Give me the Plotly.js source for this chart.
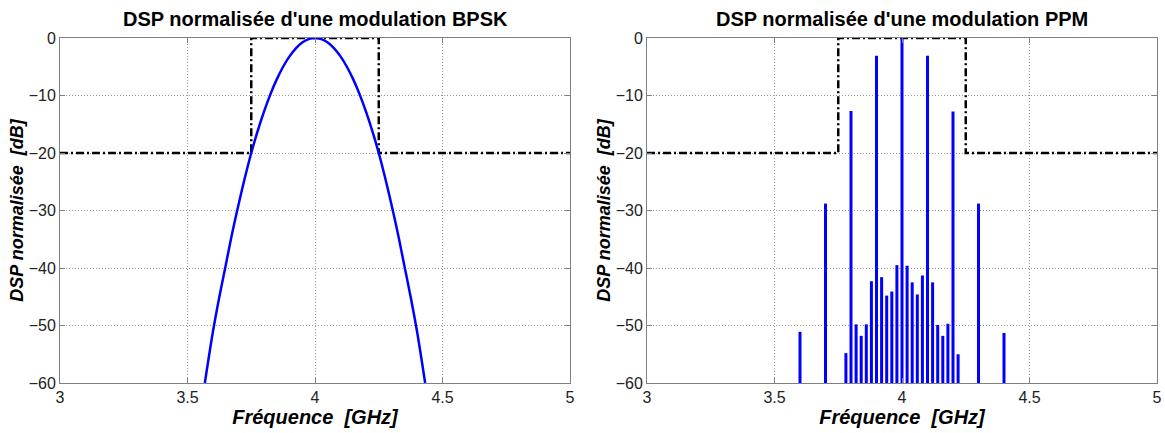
<!DOCTYPE html>
<html>
<head>
<meta charset="utf-8">
<script src="https://cdn.plot.ly/plotly-3.0.1.min.js"></script>
<style>html,body{margin:0;padding:0;background:#fff;}#chart{width:1165px;height:433px;}</style>
</head>
<body>
<div id="chart"></div>
<script>
// BPSK spectrum
const bpskFreq = [3.568, 3.6, 3.625, 3.65, 3.675, 3.7, 3.725, 3.75, 3.775, 3.8, 3.825, 3.85, 3.875, 3.9, 3.925, 3.95, 3.975, 4.0,
                  4.025, 4.05, 4.075, 4.1, 4.125, 4.15, 4.175, 4.2, 4.225, 4.25, 4.275, 4.3, 4.325, 4.35, 4.375, 4.4, 4.432];
const bpskDb   = [-60, -51, -45, -39.5, -34, -29, -24.3, -20, -16.2, -12.8, -9.8, -7.2, -5, -3.2, -1.8, -0.8, -0.2, 0,
                  -0.2, -0.8, -1.8, -3.2, -5, -7.2, -9.8, -12.8, -16.2, -20, -24.3, -29, -34, -39.5, -45, -51, -60];
// PPM spectral lines
const ppmFreq = [3.6, 3.7, 3.78, 3.8, 3.82, 3.84, 3.86, 3.88, 3.9, 3.92, 3.94, 3.96, 3.98, 4.0,
                 4.02, 4.04, 4.06, 4.08, 4.1, 4.12, 4.14, 4.16, 4.18, 4.2, 4.22, 4.3, 4.4];
const ppmDb   = [-51.1, -28.8, -54.8, -12.7, -49.8, -51.8, -49.8, -42.3, -3.1, -41.6, -44.8, -44.1, -39.5, 0,
                 -39.6, -42.5, -44.6, -41.3, -3.1, -42.5, -49.9, -51.8, -49.7, -12.8, -55, -28.8, -51.3];
// Spectral mask
const maskFreq = [3, 3.75, 3.75, 4.25, 4.25, 5];
const maskDb   = [-20, -20, 0, 0, -20, -20];
const yFloor = -60;

const xTicks = [3, 3.5, 4, 4.5, 5];
const xTickText = ['3', '3.5', '4', '4.5', '5'];
const yTicks = [-60, -50, -40, -30, -20, -10, 0];

// Build stems
const stemX = [], stemY = [];
ppmFreq.forEach((f, i) => { stemX.push(f, f, null); stemY.push(yFloor, ppmDb[i], null); });

const maskStyle = {color: '#000', width: 2.5, dash: '8px,3px,2px,3px'};
const traces = [
  {x: maskFreq, y: maskDb, mode: 'lines', line: maskStyle, xaxis: 'x', yaxis: 'y', cliponaxis: false, hoverinfo: 'skip'},
  {x: bpskFreq, y: bpskDb, mode: 'lines', line: {color: '#0000ff', width: 2.5, shape: 'spline'}, xaxis: 'x', yaxis: 'y', cliponaxis: false},
  {x: maskFreq, y: maskDb, mode: 'lines', line: maskStyle, xaxis: 'x2', yaxis: 'y2', cliponaxis: false, hoverinfo: 'skip'},
  {x: stemX, y: stemY, mode: 'lines', line: {color: '#0000ff', width: 3}, xaxis: 'x2', yaxis: 'y2', cliponaxis: false}
];

const fontFam = '"Liberation Sans", Arial, Helvetica, sans-serif';
function xAx(domain, anchor) {
  return {
    domain: domain, anchor: anchor, range: [3, 5], tickvals: xTicks, ticktext: xTickText,
    showline: true, mirror: 'ticks', linecolor: '#808080', linewidth: 1,
    ticks: 'inside', ticklen: 5, tickcolor: '#808080',
    showgrid: true, gridcolor: '#9a9a9a', griddash: '1px,2px', gridwidth: 1, zeroline: false,
    tickfont: {family: fontFam, size: 16, color: '#222'},
    title: {text: '<b><i>Fréquence&nbsp;&nbsp;[GHz]</i></b>', font: {family: fontFam, size: 20, color: '#000'}, standoff: 3}
  };
}
function yAx(anchor) {
  return {
    domain: [0, 1], anchor: anchor, range: [-60, 0], tickvals: yTicks,
    showline: true, mirror: 'ticks', linecolor: '#808080', linewidth: 1,
    ticks: 'inside', ticklen: 5, tickcolor: '#808080',
    showgrid: true, gridcolor: '#9a9a9a', griddash: '1px,2px', gridwidth: 1, zeroline: false,
    tickfont: {family: fontFam, size: 16, color: '#222'},
    title: {text: '<b><i>DSP normalisée&nbsp;&nbsp;[dB]</i></b>', font: {family: fontFam, size: 18, color: '#000'}, standoff: 0}
  };
}

const layout = {
  width: 1165, height: 433,
  margin: {l: 60, r: 8, t: 38, b: 50},
  paper_bgcolor: '#fff', plot_bgcolor: '#fff',
  showlegend: false,
  xaxis: xAx([0, 0.4649], 'y'),
  yaxis: yAx('x'),
  xaxis2: xAx([0.5351, 1], 'y2'),
  yaxis2: yAx('x2'),
  annotations: [
    {text: "<b>DSP normalisée d'une modulation BPSK</b>", xref: 'paper', yref: 'paper', x: 0.2325, y: 1, yshift: 6,
     xanchor: 'center', yanchor: 'bottom', showarrow: false, font: {family: fontFam, size: 20, color: '#000'}},
    {text: "<b>DSP normalisée d'une modulation PPM</b>", xref: 'paper', yref: 'paper', x: 0.7675, y: 1, yshift: 6,
     xanchor: 'center', yanchor: 'bottom', showarrow: false, font: {family: fontFam, size: 20, color: '#000'}}
  ]
};

Plotly.newPlot('chart', traces, layout, {displayModeBar: false, staticPlot: true});
</script>
</body>
</html>
